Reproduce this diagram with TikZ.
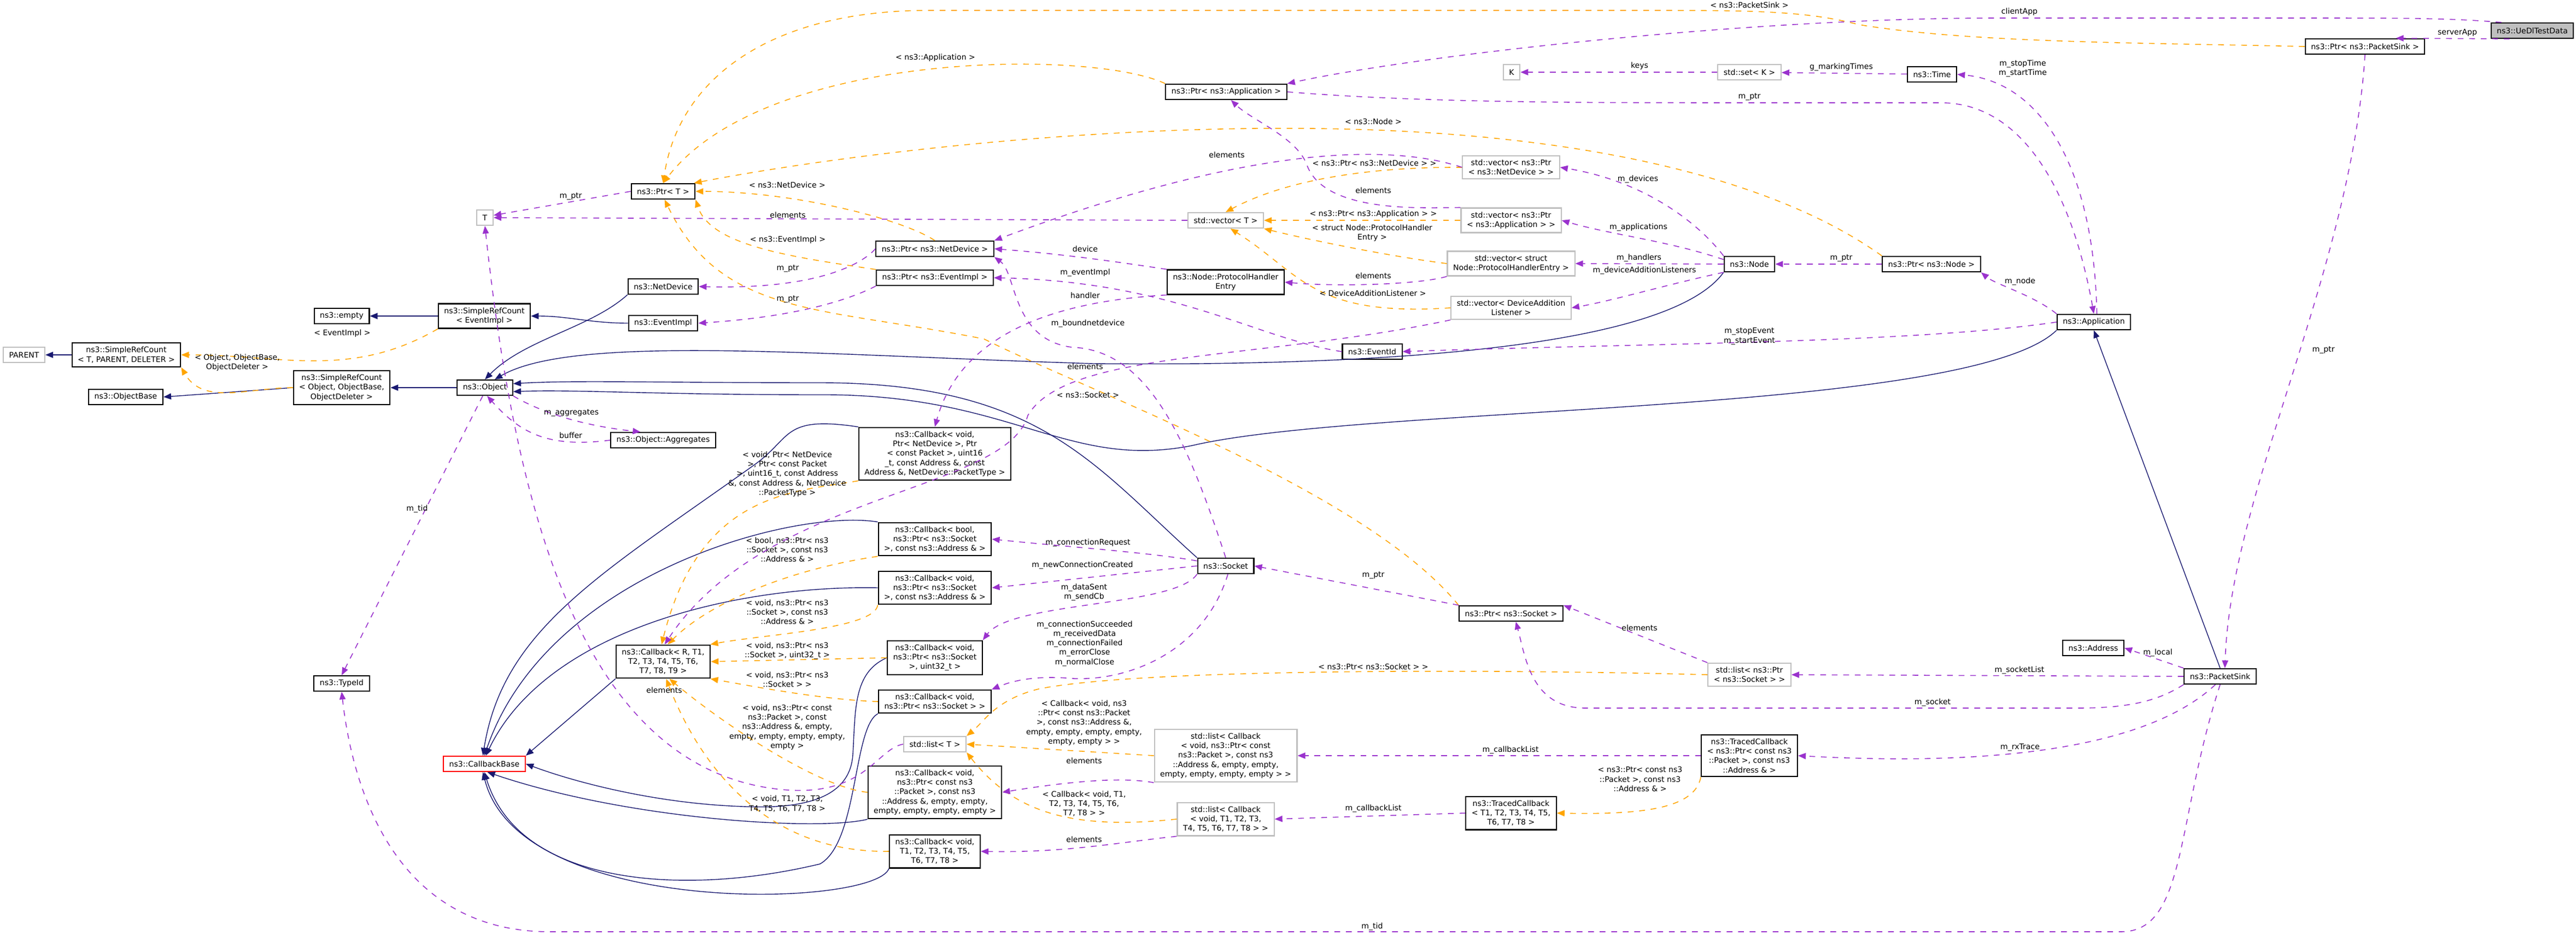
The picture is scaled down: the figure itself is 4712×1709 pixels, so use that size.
\documentclass[tikz,border=0pt]{standalone}
\usepackage{fontspec}
\setmainfont{DejaVu Sans}
\usetikzlibrary{arrows.meta}
\definecolor{pur}{HTML}{9A32CD}
\definecolor{org}{HTML}{FFA500}
\definecolor{nav}{HTML}{191970}
\tikzset{
 box/.style={draw=black, line width=0.6pt, fill=white, font=\fontsize{4}{4.9}\selectfont, inner xsep=3pt, inner ysep=2pt, align=center, minimum height=8pt},
 gbox/.style={box, draw=black!25},
 rbox/.style={box, draw=red},
 lbl/.style={font=\fontsize{4}{4.9}\selectfont, align=center, inner sep=0.5pt},
 tip/.style={-{Triangle[length=4pt,width=3.2pt]}},
 inh/.style={tip, draw=nav, line width=0.4pt},
 tpl/.style={tip, draw=org, line width=0.45pt, dashed},
 use/.style={tip, draw=pur, line width=0.45pt, dashed},
}
\begin{document}
\begin{tikzpicture}[x=0.01cm,y=-0.01cm]
\useasboundingbox (0,0) rectangle (4712,1709);
% nodes
\node[box, fill=black!25] (ue) at (4632,56) {ns3::UeDlTestData};
\node[box] (ptrsink) at (4326,85) {ns3::Ptr< ns3::PacketSink >};
\node[gbox] (K) at (2765,132) {K};
\node[gbox] (setK) at (3200,132) {std::set< K >};
\node[box] (time) at (3534,136) {ns3::Time};
\node[box] (ptrapp) at (2243,168) {ns3::Ptr< ns3::Application >};
\node[box] (ptrT) at (1213,350) {ns3::Ptr< T >};
\node[gbox] (T) at (887,398) {T};
\node[gbox] (vecnd) at (2764,306) {std::vector< ns3::Ptr\\< ns3::NetDevice > >};
\node[gbox] (vecT) at (2242,403) {std::vector< T >};
\node[gbox] (vecapp) at (2764,403) {std::vector< ns3::Ptr\\< ns3::Application > >};
\node[gbox] (vecphe) at (2764,482) {std::vector< struct\\Node::ProtocolHandlerEntry >};
\node[gbox] (vecdal) at (2764,563) {std::vector< DeviceAddition\\Listener >};
\node[box] (phe) at (2242,516) {ns3::Node::ProtocolHandler\\Entry};
\node[box] (eventid) at (2510,643) {ns3::EventId};
\node[box] (node) at (3200,483) {ns3::Node};
\node[box] (ptrnode) at (3533,483) {ns3::Ptr< ns3::Node >};
\node[box] (app) at (3830,589) {ns3::Application};
\node[box] (ptrnd) at (1710,455) {ns3::Ptr< ns3::NetDevice >};
\node[box] (ptrev) at (1710,508) {ns3::Ptr< ns3::EventImpl >};
\node[box] (netdev) at (1213,524) {ns3::NetDevice};
\node[box] (evimpl) at (1213,591) {ns3::EventImpl};
\node[box] (empty) at (625,578) {ns3::empty};
\node[box] (srcev) at (886,578) {ns3::SimpleRefCount\\< EventImpl >};
\node[box] (srcT) at (231,649) {ns3::SimpleRefCount\\< T, PARENT, DELETER >};
\node[gbox] (parent) at (44,649) {PARENT};
\node[box] (srcobj) at (625,709) {ns3::SimpleRefCount\\< Object, ObjectBase,\\ObjectDeleter >};
\node[box] (objbase) at (230,726) {ns3::ObjectBase};
\node[box] (object) at (887,709) {ns3::Object};
\node[box] (aggr) at (1213,805) {ns3::Object::Aggregates};
\node[box] (cbnd) at (1710,830) {ns3::Callback< void,\\Ptr< NetDevice >, Ptr\\< const Packet >, uint16\\\_t, const Address \&, const\\Address \&, NetDevice::PacketType >};
\node[box] (cbbool) at (1710,986) {ns3::Callback< bool,\\ns3::Ptr< ns3::Socket\\>, const ns3::Address \& >};
\node[box] (cbaddr) at (1710,1075) {ns3::Callback< void,\\ns3::Ptr< ns3::Socket\\>, const ns3::Address \& >};
\node[box] (cbR) at (1213,1210) {ns3::Callback< R, T1,\\T2, T3, T4, T5, T6,\\T7, T8, T9 >};
\node[box] (cbu32) at (1710,1203) {ns3::Callback< void,\\ns3::Ptr< ns3::Socket\\>, uint32\_t >};
\node[box] (cbsock) at (1710,1283) {ns3::Callback< void,\\ns3::Ptr< ns3::Socket > >};
\node[gbox] (listT) at (1710,1361) {std::list< T >};
\node[rbox] (cbbase) at (886,1397) {ns3::CallbackBase};
\node[box] (cbempty) at (1710,1449) {ns3::Callback< void,\\ns3::Ptr< const ns3\\::Packet >, const ns3\\::Address \&, empty, empty,\\empty, empty, empty, empty >};
\node[box] (cbT8) at (1710,1557) {ns3::Callback< void,\\T1, T2, T3, T4, T5,\\T6, T7, T8 >};
\node[box] (socket) at (2242,1035) {ns3::Socket};
\node[box] (ptrsock) at (2764,1122) {ns3::Ptr< ns3::Socket >};
\node[gbox] (listcbe) at (2242,1382) {std::list< Callback\\< void, ns3::Ptr< const\\ns3::Packet >, const ns3\\::Address \&, empty, empty,\\empty, empty, empty, empty > >};
\node[gbox] (listcb8) at (2242,1498) {std::list< Callback\\< void, T1, T2, T3,\\T4, T5, T6, T7, T8 > >};
\node[box] (tcb8) at (2764,1487) {ns3::TracedCallback\\< T1, T2, T3, T4, T5,\\T6, T7, T8 >};
\node[gbox] (listsock) at (3200,1234) {std::list< ns3::Ptr\\< ns3::Socket > >};
\node[box] (address) at (3829,1185) {ns3::Address};
\node[box] (sink) at (4061,1237) {ns3::PacketSink};
\node[box] (tcbp) at (3200,1382) {ns3::TracedCallback\\< ns3::Ptr< const ns3\\::Packet >, const ns3\\::Address \& >};
\node[box] (typeid) at (625,1250) {ns3::TypeId};

% inheritance
\draw[inh] (srcev) -- (empty);
\draw[inh] (srcT) -- (parent);
\draw[inh] (srcobj.west) -- (objbase.east);
\draw[inh] (object) -- (srcobj);
\draw[inh] (evimpl.west) to[out=180,in=0] (srcev.east);
\draw[inh] (netdev.south west) .. controls (1080,600) and (960,620) .. (object.north);
\draw[inh] (node.south west) .. controls (3050,640) and (2500,670) .. (2000,665) .. controls (1500,650) and (1050,610) .. (object.40);
\draw[inh] (socket.north west) .. controls (2000,850) and (1900,700) .. (1500,700) .. controls (1200,700) and (1050,695) .. (object.8);
\draw[inh] (app.south west) .. controls (3600,760) and (2500,740) .. (2180,815) .. controls (1950,860) and (1850,720) .. (1500,722) .. controls (1200,722) and (1050,712) .. (object.-8);
\draw[inh] (sink.north) -- (app.south);
\draw[inh] (cbnd.north west) .. controls (1430,760) and (1450,800) .. (1380,850) .. controls (1100,1050) and (920,1150) .. (cbbase.100);
\draw[inh] (cbbool.north west) .. controls (1450,930) and (1000,1050) .. (cbbase.90);
\draw[inh] (cbaddr.west) .. controls (1350,1070) and (1000,1150) .. (cbbase.80);
\draw[inh] (cbR.south west) -- (cbbase.north east);
\draw[inh] (cbu32.west) .. controls (1560,1230) and (1565,1300) .. (1560,1380) .. controls (1555,1460) and (1470,1480) .. (1360,1475) .. controls (1200,1470) and (1050,1430) .. (cbbase.east);
\draw[inh] (cbempty.south west) .. controls (1500,1520) and (1150,1500) .. (cbbase.-70);
\draw[inh] (cbsock.south west) .. controls (1560,1330) and (1570,1540) .. (1500,1580) .. controls (1250,1640) and (950,1620) .. (cbbase.-90);
\draw[inh] (cbT8.south west) .. controls (1600,1660) and (950,1680) .. (cbbase.-100);

% templates
\draw[tpl] (srcev.south west) to[out=210,in=0] (srcT.east);
\node[lbl] (l1) at (626,610) {< EventImpl >};
\draw[tpl] (srcobj.west) to[out=180,in=-60] (srcT.south east);
\node[lbl] (l2) at (434,663) {< Object, ObjectBase,\\ObjectDeleter >};
\draw[tpl] (ptrnd.north) .. controls (1650,400) and (1450,350) .. (ptrT.east);
\node[lbl] (l3) at (1440,338) {< ns3::NetDevice >};
\draw[tpl] (ptrev.north west) .. controls (1450,470) and (1300,450) .. (ptrT.south east);
\node[lbl] (l4) at (1441,439) {< ns3::EventImpl >};
\draw[tpl] (ptrapp.north west) .. controls (2000,90) and (1400,90) .. (ptrT.north);
\node[lbl] (l5) at (1711,106) {< ns3::Application >};
\draw[tpl] (ptrsink.west) .. controls (3900,78) and (3600,78) .. (3400,45) .. controls (3300,19) and (3200,19) .. (3000,19) -- (1700,19) .. controls (1400,19) and (1240,150) .. (ptrT.north);
\node[lbl] (l6) at (3200,9) {< ns3::PacketSink >};
\draw[tpl] (ptrnode.north west) .. controls (3250,330) and (2900,240) .. (2400,235) .. controls (1950,230) and (1500,290) .. (ptrT.15);
\node[lbl] (l7) at (2512,222) {< ns3::Node >};
\draw[tpl] (ptrsock.north west) .. controls (2500,900) and (2000,720) .. (1800,620) .. controls (1500,560) and (1320,580) .. (ptrT.-80);
\node[lbl] (l8) at (1990,722) {< ns3::Socket >};
\draw[tpl] (vecnd.west) .. controls (2500,305) and (2350,330) .. (vecT.north);
\node[lbl] (l9) at (2514,298) {< ns3::Ptr< ns3::NetDevice > >};
\draw[tpl] (vecapp.west) -- (vecT.east);
\node[lbl] (l10) at (2512,392) {< ns3::Ptr< ns3::Application > >};
\draw[tpl] (vecphe.west) .. controls (2550,470) and (2400,440) .. (vecT.south east);
\node[lbl] (l11) at (2510,426) {< struct Node::ProtocolHandler\\Entry >};
\draw[tpl] (vecdal.west) .. controls (2400,580) and (2380,500) .. (vecT.-60);
\node[lbl] (l12) at (2511,536) {< DeviceAdditionListener >};
\draw[tpl] (cbnd.south west) .. controls (1450,900) and (1280,900) .. (cbR.95);
\node[lbl] (l13) at (1440,867) {< void, Ptr< NetDevice\\>, Ptr< const Packet\\>, uint16\_t, const Address\\\&, const Address \&, NetDevice\\::PacketType >};
\draw[tpl] (cbbool.south west) .. controls (1450,1040) and (1300,1100) .. (cbR.75);
\node[lbl] (l14) at (1440,1005) {< bool, ns3::Ptr< ns3\\::Socket >, const ns3\\::Address \& >};
\draw[tpl] (cbaddr.south west) .. controls (1600,1150) and (1400,1160) .. (cbR.20);
\node[lbl] (l15) at (1440,1119) {< void, ns3::Ptr< ns3\\::Socket >, const ns3\\::Address \& >};
\draw[tpl] (cbu32.west) -- (cbR.east);
\node[lbl] (l16) at (1440,1190) {< void, ns3::Ptr< ns3\\::Socket >, uint32\_t >};
\draw[tpl] (cbsock.west) .. controls (1500,1280) and (1350,1250) .. (cbR.-20);
\node[lbl] (l17) at (1440,1243) {< void, ns3::Ptr< ns3\\::Socket > >};
\draw[tpl] (cbempty.west) .. controls (1500,1440) and (1330,1330) .. (cbR.-70);
\node[lbl] (l18) at (1440,1330) {< void, ns3::Ptr< const\\ns3::Packet >, const\\ns3::Address \&, empty,\\empty, empty, empty, empty,\\empty >};
\draw[tpl] (cbT8.west) .. controls (1400,1560) and (1280,1400) .. (cbR.-80);
\node[lbl] (l19) at (1440,1470) {< void, T1, T2, T3,\\T4, T5, T6, T7, T8 >};
\draw[tpl] (listsock.west) .. controls (2800,1225) and (2100,1220) .. (1900,1260) .. controls (1820,1280) and (1800,1320) .. (listT.north east);
\node[lbl] (l20) at (2512,1219) {< ns3::Ptr< ns3::Socket > >};
\draw[tpl] (listcbe.west) -- (listT.east);
\node[lbl] (l21) at (1983,1322) {< Callback< void, ns3\\::Ptr< const ns3::Packet\\>, const ns3::Address \&,\\empty, empty, empty, empty,\\empty, empty > >};
\draw[tpl] (listcb8.west) .. controls (1950,1520) and (1850,1480) .. (listT.south east);
\node[lbl] (l22) at (1983,1470) {< Callback< void, T1,\\T2, T3, T4, T5, T6,\\T7, T8 > >};
\draw[tpl] (tcbp.south west) .. controls (3100,1480) and (3000,1490) .. (tcb8.east);
\node[lbl] (l23) at (3000,1425) {< ns3::Ptr< const ns3\\::Packet >, const ns3\\::Address \& >};

% usage
\draw[use] (ue.165) .. controls (4480,33) and (4400,33) .. (4200,33) -- (3650,33) .. controls (3200,33) and (2600,100) .. (ptrapp.north east);
\node[lbl] (u1) at (3694,22) {clientApp};
\draw[use] (ue.200) -- (ptrsink.15);
\node[lbl] (u2) at (4495,60) {serverApp};
\draw[use] (ptrsink.south) .. controls (4300,500) and (4080,900) .. (sink.60);
\node[lbl] (u3) at (4250,640) {m\_ptr};
\draw[use] (setK) -- (K);
\node[lbl] (u4) at (2999,121) {keys};
\draw[use] (time) -- (setK);
\node[lbl] (u5) at (3368,123) {g\_markingTimes};
\draw[use] (app.70) .. controls (3830,300) and (3730,150) .. (time.east);
\node[lbl] (u6) at (3700,125) {m\_stopTime\\m\_startTime};
\draw[use] (ptrapp.east) .. controls (2600,188) and (2900,188) .. (3200,188) -- (3550,188) .. controls (3700,188) and (3790,350) .. (app.north);
\node[lbl] (u7) at (3200,177) {m\_ptr};
\draw[use] (ptrT.west) -- (T.15);
\node[lbl] (u8) at (1044,359) {m\_ptr};
\draw[use] (vecT.west) -- (T.east);
\node[lbl] (u9) at (1441,393) {elements};
\draw[use] (vecnd.west) .. controls (2550,265) and (2300,260) .. (ptrnd.north east);
\node[lbl] (u10) at (2244,283) {elements};
\draw[use] (vecapp.north west) .. controls (2600,380) and (2420,390) .. (2390,300) .. controls (2370,250) and (2290,220) .. (ptrapp.-60);
\node[lbl] (u11) at (2512,348) {elements};
\draw[use] (vecphe.south west) .. controls (2600,520) and (2450,525) .. (phe.east);
\node[lbl] (u12) at (2512,504) {elements};
\draw[use] (vecdal.south west) .. controls (2300,660) and (1950,640) .. (1880,760) .. controls (1840,900) and (1400,900) .. (cbR.85);
\node[lbl] (u13) at (1985,670) {elements};
\draw[use] (ptrnd.west) .. controls (1580,480) and (1500,530) .. (netdev.east);
\node[lbl] (u14) at (1441,491) {m\_ptr};
\draw[use] (ptrev.south west) .. controls (1550,550) and (1450,580) .. (evimpl.east);
\node[lbl] (u15) at (1441,547) {m\_ptr};
\draw[use] (phe.north west) .. controls (2050,480) and (1950,465) .. (ptrnd.east);
\node[lbl] (u16) at (1985,455) {device};
\draw[use] (phe.south west) .. controls (1950,550) and (1760,600) .. (cbnd.north);
\node[lbl] (u17) at (1985,540) {handler};
\draw[use] (eventid.west) .. controls (2300,620) and (2150,515) .. (ptrev.east);
\node[lbl] (u18) at (1985,499) {m\_eventImpl};
\draw[use] (socket.north) .. controls (2170,800) and (2100,640) .. (1960,635) .. controls (1850,620) and (1860,500) .. (ptrnd.south east);
\node[lbl] (u19) at (1990,592) {m\_boundnetdevice};
\draw[use] (node.north west) .. controls (3100,400) and (3000,330) .. (vecnd.east);
\node[lbl] (u20) at (2996,328) {m\_devices};
\draw[use] (node.170) .. controls (3050,440) and (2950,430) .. (vecapp.east);
\node[lbl] (u21) at (2997,416) {m\_applications};
\draw[use] (node.west) -- (vecphe.east);
\node[lbl] (u22) at (2998,472) {m\_handlers};
\draw[use] (node.south west) .. controls (3050,520) and (2950,550) .. (vecdal.east);
\node[lbl] (u23) at (3008,495) {m\_deviceAdditionListeners};
\draw[use] (ptrnode) -- (node);
\node[lbl] (u24) at (3368,472) {m\_ptr};
\draw[use] (app.north west) .. controls (3720,540) and (3650,520) .. (ptrnode.south east);
\node[lbl] (u25) at (3695,515) {m\_node};
\draw[use] (app.west) .. controls (3500,628) and (3000,628) .. (eventid.east);
\node[lbl] (u26) at (3200,615) {m\_stopEvent\\m\_startEvent};
\draw[use] (object.south east) .. controls (1000,760) and (1080,780) .. (aggr.160);
\node[lbl] (u27) at (1045,755) {m\_aggregates};
\draw[use] (aggr.west) .. controls (1000,820) and (950,790) .. (object.-75);
\node[lbl] (u28) at (1044,796) {buffer};
\draw[use] (object.-105) -- (typeid.north);
\node[lbl] (u29) at (763,931) {m\_tid};
\draw[use] (sink.south) .. controls (3980,1500) and (4000,1704) .. (3880,1704) -- (1000,1704) .. controls (700,1700) and (640,1400) .. (typeid.south);
\node[lbl] (u30) at (2510,1695) {m\_tid};
\draw[use] (socket.170) .. controls (2100,1010) and (1950,1000) .. (cbbool.east);
\node[lbl] (u31) at (1990,993) {m\_connectionRequest};
\draw[use] (socket.west) -- (cbaddr.east);
\node[lbl] (u32) at (1980,1034) {m\_newConnectionCreated};
\draw[use] (socket.south west) .. controls (2150,1110) and (1850,1100) .. (cbu32.north east);
\node[lbl] (u33) at (1983,1083) {m\_dataSent\\m\_sendCb};
\draw[use] (socket.-75) .. controls (2200,1200) and (2050,1250) .. (1950,1240) .. controls (1880,1235) and (1840,1250) .. (cbsock.north east);
\node[lbl] (u34) at (1984,1177) {m\_connectionSucceeded\\m\_receivedData\\m\_connectionFailed\\m\_errorClose\\m\_normalClose};
\draw[use] (ptrsock.north west) -- (socket.east);
\node[lbl] (u35) at (2512,1052) {m\_ptr};
\draw[use] (listsock.north west) -- (ptrsock.north east);
\node[lbl] (u36) at (2999,1148) {elements};
\draw[use] (sink.west) -- (listsock.east);
\node[lbl] (u37) at (3694,1226) {m\_socketList};
\draw[use] (sink.south west) .. controls (3950,1280) and (3900,1295) .. (3800,1295) -- (2900,1295) .. controls (2800,1295) and (2790,1200) .. (ptrsock.-60);
\node[lbl] (u38) at (3535,1285) {m\_socket};
\draw[use] (sink.north west) -- (address.east);
\node[lbl] (u39) at (3947,1194) {m\_local};
\draw[use] (sink.-120) .. controls (3980,1320) and (3800,1410) .. (tcbp.east);
\node[lbl] (u40) at (3695,1367) {m\_rxTrace};
\draw[use] (tcbp.west) -- (listcbe.east);
\node[lbl] (u41) at (2763,1372) {m\_callbackList};
\draw[use] (tcb8.west) -- (listcb8.east);
\node[lbl] (u42) at (2512,1479) {m\_callbackList};
\draw[use] (listcbe.south west) .. controls (2050,1420) and (1950,1430) .. (cbempty.east);
\node[lbl] (u43) at (1983,1391) {elements};
\draw[use] (listcb8.south west) .. controls (2050,1540) and (1950,1560) .. (cbT8.east);
\node[lbl] (u44) at (1983,1535) {elements};
\draw[use] (listT.west) .. controls (1600,1370) and (1580,1470) .. (1400,1440) .. controls (1050,1380) and (940,900) .. (T.south);
\node[lbl] (u45) at (1215,1262) {elements};
\end{tikzpicture}
\end{document}
